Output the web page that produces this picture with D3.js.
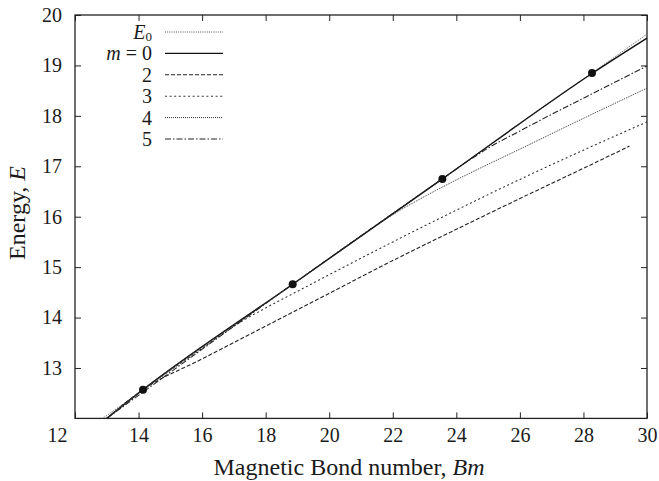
<!DOCTYPE html>
<html>
<head>
<meta charset="utf-8">
<script src="https://cdn.jsdelivr.net/npm/d3@7"></script>
<style>
  body { margin: 0; background: #fff; }
  svg { display: block; font-family: "Liberation Serif", "Times New Roman", serif; }
</style>
</head>
<body>
<figure id="chart" style="margin:0"></figure>
<script>
// tick values
const xTicks = [12, 14, 16, 18, 20, 22, 24, 26, 28, 30]
const yTicks = [13, 14, 15, 16, 17, 18, 19, 20]

// data points (Bm, E)
const dotsBm = [14.14, 18.85, 23.56, 28.27]
const dotsE  = [12.57, 14.66, 16.75, 18.85]

const e0Bm = [12.87, 16, 20, 24, 28, 30]
const e0E  = [12.0, 13.39, 15.17, 16.95, 18.73, 19.62]

const m0Bm = [13.0, 14.14, 18.85, 23.56, 28.27, 30]
const m0E  = [12.0, 12.57, 14.66, 16.75, 18.84, 19.54]

const m2Bm = [13.0, 14.14, 16, 18, 20, 22, 24, 26, 28, 29.45]
const m2E  = [12.0, 12.57, 13.18, 13.83, 14.48, 15.13, 15.75, 16.36, 16.96, 17.40]

const m3Bm = [13.0, 14.14, 16, 17, 18, 19, 20, 22, 24, 26, 28, 30]
const m3E  = [12.0, 12.57, 13.39, 13.83, 14.19, 14.52, 14.85, 15.5, 16.13, 16.74, 17.32, 17.88]

const m4Bm = [13.0, 14.14, 18.85, 21, 22, 23, 24, 26, 28, 30]
const m4E  = [12.0, 12.57, 14.66, 15.62, 16.04, 16.40, 16.73, 17.34, 17.95, 18.55]

const m5Bm = [13.0, 18.85, 23.56, 24.5, 25, 26, 27, 28, 29, 30]
const m5E  = [12.0, 14.66, 16.75, 17.16, 17.36, 17.70, 18.03, 18.35, 18.67, 18.99]

const legendLabels = ["E0", "m = 0", "2", "3", "4", "5"]

const series = [
  { bm: e0Bm, e: e0E, dash: "1,1.2", width: 1, color: "#555" },
  { bm: m0Bm, e: m0E, dash: null, width: 1.4, color: "#111" },
  { bm: m2Bm, e: m2E, dash: "4,2", width: 1.1, color: "#222" },
  { bm: m3Bm, e: m3E, dash: "2,2.6", width: 1.1, color: "#333" },
  { bm: m4Bm, e: m4E, dash: "1,1", width: 1, color: "#333" },
  { bm: m5Bm, e: m5E, dash: "6,2,1.5,2", width: 1.1, color: "#222" }
]

const serif = "'Liberation Serif', 'Times New Roman', serif"
const width = 659
const height = 481
const margin = { left: 75, right: 12, top: 15, bottom: 62.6 }

const svg = d3.select('figure#chart')
  .append('svg')
  .attr('width', width)
  .attr('height', height)

const x = d3.scaleLinear()
  .domain([12, 30])
  .range([margin.left, width - margin.right])

const y = d3.scaleLinear()
  .domain([12, 20])
  .range([height - margin.bottom, margin.top])

const plotW = x(30) - x(12)
const plotH = y(12) - y(20)

svg.append('clipPath').attr('id', 'clip')
  .append('rect')
  .attr('x', x(12)).attr('y', y(20))
  .attr('width', plotW).attr('height', plotH)

// axes, ticks inward on all four sides
const bottom = svg.append('g')
  .attr('transform', 'translate(0,' + y(12) + ')')
  .call(d3.axisBottom(x).tickValues(xTicks).tickSizeInner(-6).tickSizeOuter(0).tickPadding(9))
bottom.selectAll('.tick text').attr('dy', '0.71em')
// the corner "12" sits left of the frame
bottom.selectAll('.tick text').filter(d => d === 12).attr('dx', -18)

svg.append('g')
  .attr('transform', 'translate(0,' + y(20) + ')')
  .call(d3.axisTop(x).tickValues(xTicks).tickSizeInner(-6).tickSizeOuter(0).tickFormat(''))

const left = svg.append('g')
  .attr('transform', 'translate(' + x(12) + ',0)')
  .call(d3.axisLeft(y).tickValues(yTicks).tickSizeInner(-6).tickSizeOuter(0).tickPadding(13))

svg.append('g')
  .attr('transform', 'translate(' + x(30) + ',0)')
  .call(d3.axisRight(y).tickValues(yTicks).tickSizeInner(-6).tickSizeOuter(0).tickFormat(''))

svg.selectAll('.tick text')
  .style('font-family', serif)
  .style('font-size', '20px')
  .attr('fill', '#1a1a1a')

svg.selectAll('.domain').remove()
svg.selectAll('.tick line').attr('stroke', '#222').attr('stroke-width', 1)

svg.append('rect')
  .attr('x', x(12)).attr('y', y(20))
  .attr('width', plotW).attr('height', plotH)
  .attr('fill', 'none')
  .attr('stroke', '#222')
  .attr('stroke-width', 1.3)

// curves
const line = d3.line()
  .x(d => x(d[0]))
  .y(d => y(d[1]))
  .curve(d3.curveMonotoneX)

const lines = svg.append('g').attr('clip-path', 'url(#clip)')
series.forEach(s => {
  lines.append('path')
    .datum(s.bm.map((b, i) => [b, s.e[i]]))
    .attr('d', line)
    .attr('fill', 'none')
    .attr('stroke', s.color)
    .attr('stroke-width', s.width)
    .attr('stroke-dasharray', s.dash)
})

svg.append('g').selectAll('circle')
  .data(dotsBm.map((b, i) => [b, dotsE[i]]))
  .enter()
  .append('circle')
  .attr('cx', d => x(d[0]))
  .attr('cy', d => y(d[1]))
  .attr('r', 4)
  .attr('fill', '#111')

// legend
const legend = svg.append('g').attr('font-size', 20).attr('fill', '#1a1a1a')
legendLabels.forEach((label, i) => {
  const ly = 32 + i * 21.4
  const t = legend.append('text')
    .attr('x', 152)
    .attr('y', ly)
    .attr('dy', '0.35em')
    .attr('text-anchor', 'end')
  if (label === 'E0') {
    t.append('tspan').attr('font-style', 'italic').text('E')
    t.append('tspan').attr('font-size', 13).attr('dy', 2).text('0')
  } else if (label.startsWith('m')) {
    t.append('tspan').attr('font-style', 'italic').text('m')
    t.append('tspan').text(label.slice(1))
  } else {
    t.text(label)
  }
  const s = series[i]
  legend.append('line')
    .attr('x1', 165).attr('x2', 223)
    .attr('y1', ly).attr('y2', ly)
    .attr('stroke', s.color)
    .attr('stroke-width', s.width)
    .attr('stroke-dasharray', s.dash)
})

// axis titles
const xt = svg.append('text')
  .attr('x', (x(12) + x(30)) / 2 - 12)
  .attr('y', 475)
  .attr('text-anchor', 'middle')
  .attr('font-size', 24)
  .attr('fill', '#1a1a1a')
xt.append('tspan').text('Magnetic Bond number, ')
xt.append('tspan').attr('font-style', 'italic').text('Bm')

const yt = svg.append('text')
  .attr('transform', 'translate(25,' + 213 + ') rotate(-90)')
  .attr('text-anchor', 'middle')
  .attr('font-size', 24)
  .attr('fill', '#1a1a1a')
yt.append('tspan').text('Energy, ')
yt.append('tspan').attr('font-style', 'italic').text('E')
</script>
</body>
</html>
